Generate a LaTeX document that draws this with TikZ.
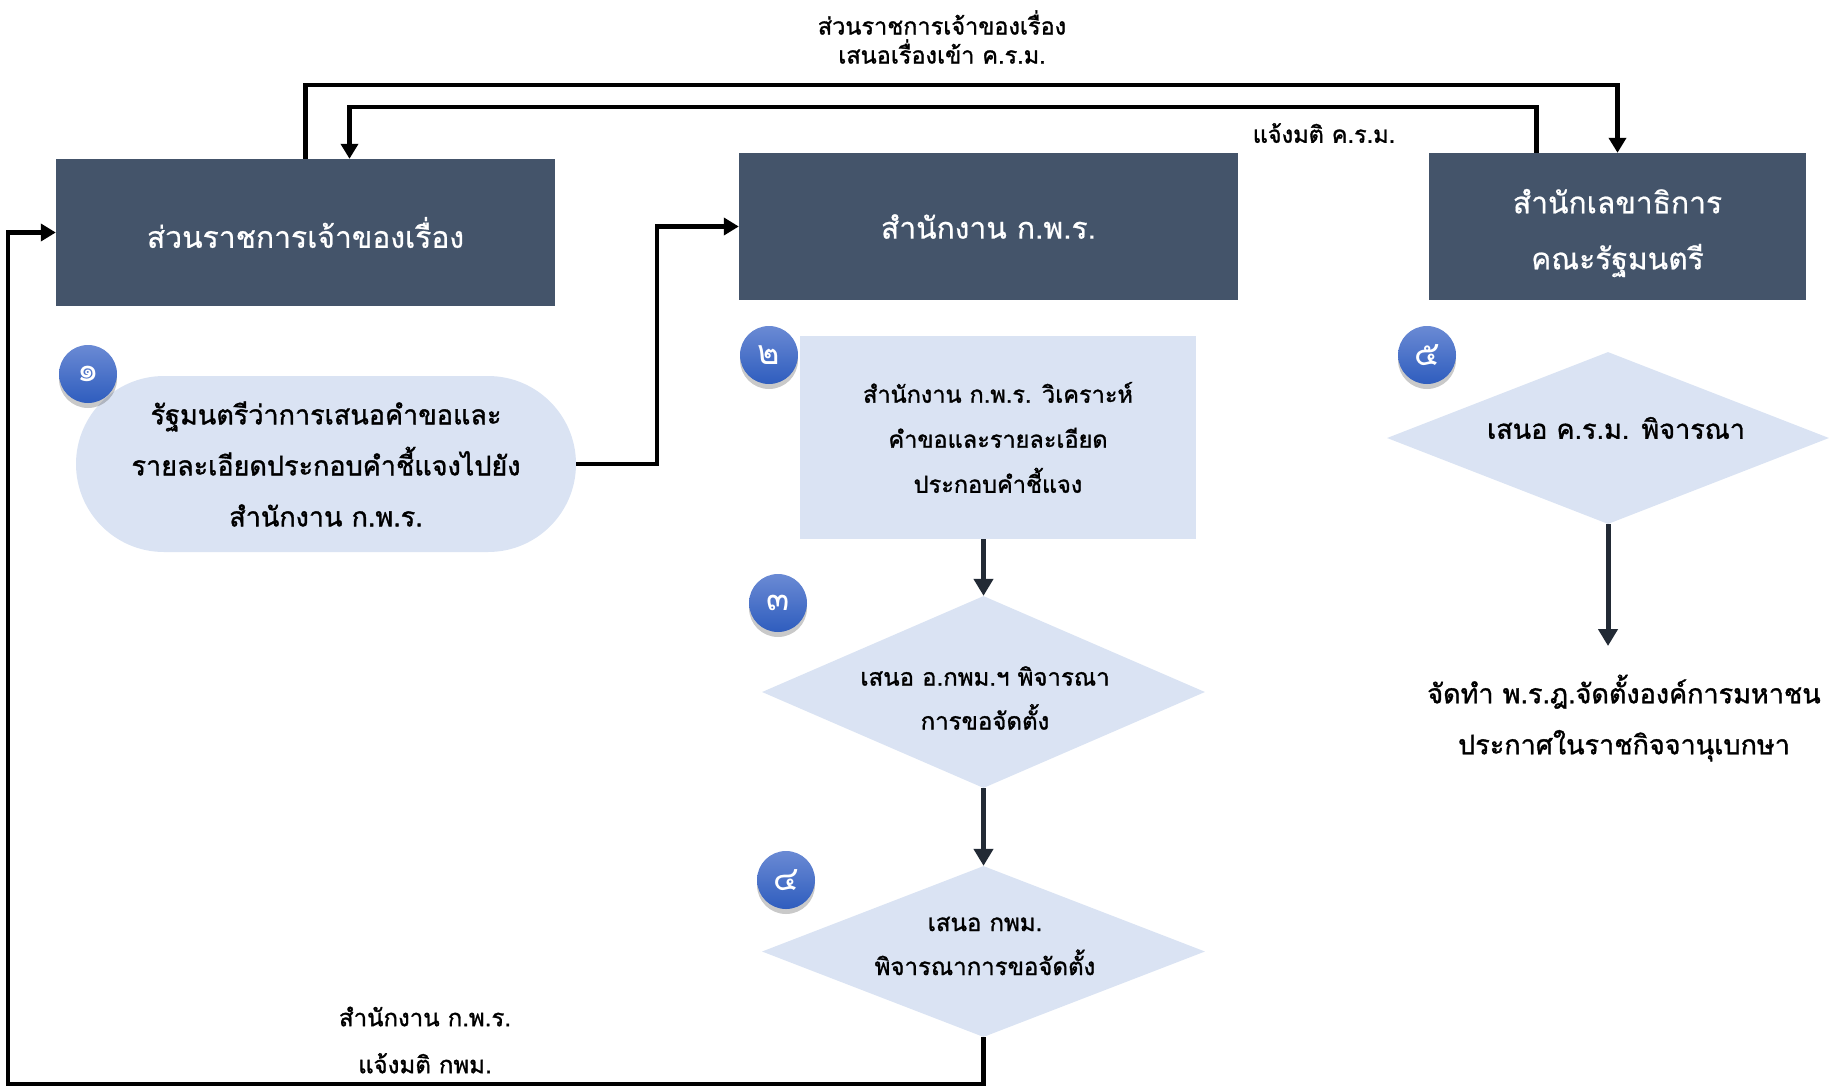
\documentclass[tikz,border=0pt]{standalone}
\usepackage{fontspec}
\newfontfamily\thaifont[Script=Thai]{Loma}
\newfontfamily\thaititle[Script=Thai,FakeBold=0.6]{Loma}
\newfontfamily\thaibold[Script=Thai,FakeBold=1.3]{Loma}
\usetikzlibrary{arrows.meta,shapes.geometric,shadows,positioning,calc}
\definecolor{darkbox}{HTML}{44546A}
\definecolor{lightbox}{HTML}{DAE3F3}
\definecolor{darkline}{HTML}{222A35}
\definecolor{ballhi}{HTML}{6A8AD4}
\definecolor{balllo}{HTML}{2F5DBE}
\tikzset{
  titlebox/.style={fill=darkbox,draw=none,text=white,align=center,inner sep=0pt,
    font=\thaititle\fontsize{30}{56}\selectfont},
  stepbox/.style={fill=lightbox,draw=none,align=center,inner sep=0pt,
    font=\thaibold\fontsize{27}{51}\selectfont},
  decide/.style={diamond,fill=lightbox,draw=none,align=center,inner sep=0pt,aspect=2.3},
  badge/.style={circle,minimum size=58pt,inner sep=0pt,text=white,
    top color=ballhi,bottom color=balllo,
    drop shadow={opacity=0.3,shadow xshift=0pt,shadow yshift=-5pt,fill=black!70},
    font=\thaifont\fontsize{34}{34}\selectfont},
  lbl/.style={align=center,inner sep=0pt,font=\thaibold\fontsize{24}{44}\selectfont},
  blackflow/.style={line width=4.5pt,draw=black,-{Triangle[length=15pt,width=17pt]}},
  darkflow/.style={line width=5pt,draw=darkline,-{Triangle[length=17pt,width=19pt]}},
}
\begin{document}
\begin{tikzpicture}[x=1pt,y=-1pt]
\useasboundingbox (0,0) rectangle (1843,1087);

% main boxes
\node[titlebox,minimum width=499pt,minimum height=147pt] (A) at (305.5,232.5)
  {ส่วนราชการเจ้าของเรื่อง};
\node[titlebox,minimum width=499pt,minimum height=147pt] (B) at (988.5,226.5)
  {สำนักงาน ก.พ.ร.};
\node[titlebox,minimum width=377pt,minimum height=147pt] (C) at (1617.5,226.5) {};
\node[titlebox,fill=none] (Ct) at (1617.5,233)
  {สำนักเลขาธิการ\\คณะรัฐมนตรี};

% step 1 stadium
\node[stepbox,rounded corners=88pt,minimum width=500pt,minimum height=176pt] (S1) at (326,464)
  {รัฐมนตรีว่าการเสนอคำขอและ\\รายละเอียดประกอบคำชี้แจงไปยัง\\สำนักงาน ก.พ.ร.};

% step 2 box
\node[stepbox,minimum width=396pt,minimum height=203pt,
  font=\thaibold\fontsize{23.5}{45}\selectfont] (S2) at (998,437.5)
  {สำนักงาน ก.พ.ร. วิเคราะห์\\คำขอและรายละเอียด\\ประกอบคำชี้แจง};

% diamonds
\node[decide,minimum width=443pt,minimum height=192pt] (D3) at (983.5,692) {};
\node[lbl] (T3) at (985,698)
  {เสนอ อ.กพม.ฯ พิจารณา\\การขอจัดตั้ง};
\node[decide,minimum width=443pt,minimum height=171pt] (D4) at (983.5,951.5) {};
\node[lbl] (T4) at (985,946)
  {เสนอ กพม.\\พิจารณาการขอจัดตั้ง};
\node[decide,minimum width=442pt,minimum height=172pt] (D5) at (1608,438) {};
\node[lbl,font=\thaibold\fontsize{27}{44}\selectfont] (T5) at (1616,428)
  {เสนอ ค.ร.ม. พิจารณา};

% result text
\node[lbl,font=\thaibold\fontsize{27}{51}\selectfont] (R) at (1624,718)
  {จัดทำ พ.ร.ฎ.จัดตั้งองค์การมหาชน\\ประกาศในราชกิจจานุเบกษา};
\coordinate (Rtop) at (1608,646);

% badges
\node[badge] (N1) at (88,374) {๑};
\node[badge] (N2) at (769,355) {๒};
\node[badge] (N3) at (778,603) {๓};
\node[badge] (N4) at (786,880) {๔};
\node[badge] (N5) at (1427,355) {๕};

% connector labels
\node[lbl,font=\thaibold\fontsize{23.5}{29}\selectfont] (L1) at (942,37)
  {ส่วนราชการเจ้าของเรื่อง\\เสนอเรื่องเข้า ค.ร.ม.};
\node[lbl,font=\thaibold\fontsize{23.5}{29}\selectfont] (L2) at (1324,133) {แจ้งมติ ค.ร.ม.};
\node[lbl,font=\thaibold\fontsize{24}{47}\selectfont] (L3) at (425,1040)
  {สำนักงาน ก.พ.ร.\\แจ้งมติ กพม.};

% connectors
\coordinate (top1) at (0,85);
\coordinate (top2) at (0,107);
\coordinate (bot) at (0,1084);
\coordinate (leftx) at (8,0);
\coordinate (midx) at (657,0);

\draw[blackflow] (A.north) -- (A.north |- top1) -- (C.north |- top1) -- (C.north);
\draw[blackflow] ([xshift=-81pt]C.north) -- ([xshift=-81pt]C.north |- top2)
  -- ([xshift=44pt]A.north |- top2) -- ([xshift=44pt]A.north);
\draw[blackflow] (S1.east) -- (S1.east -| midx) -- (midx |- B.west) -- (B.west);
\draw[blackflow] (D4.south) -- (D4.south |- bot) -- (leftx |- bot) -- (leftx |- A.west) -- (A.west);

\draw[darkflow] (S2.south -| D3.north) -- (D3.north);
\draw[darkflow] (D3.south) -- (D4.north);
\draw[darkflow] (D5.south) -- (Rtop);
\end{tikzpicture}
\end{document}
